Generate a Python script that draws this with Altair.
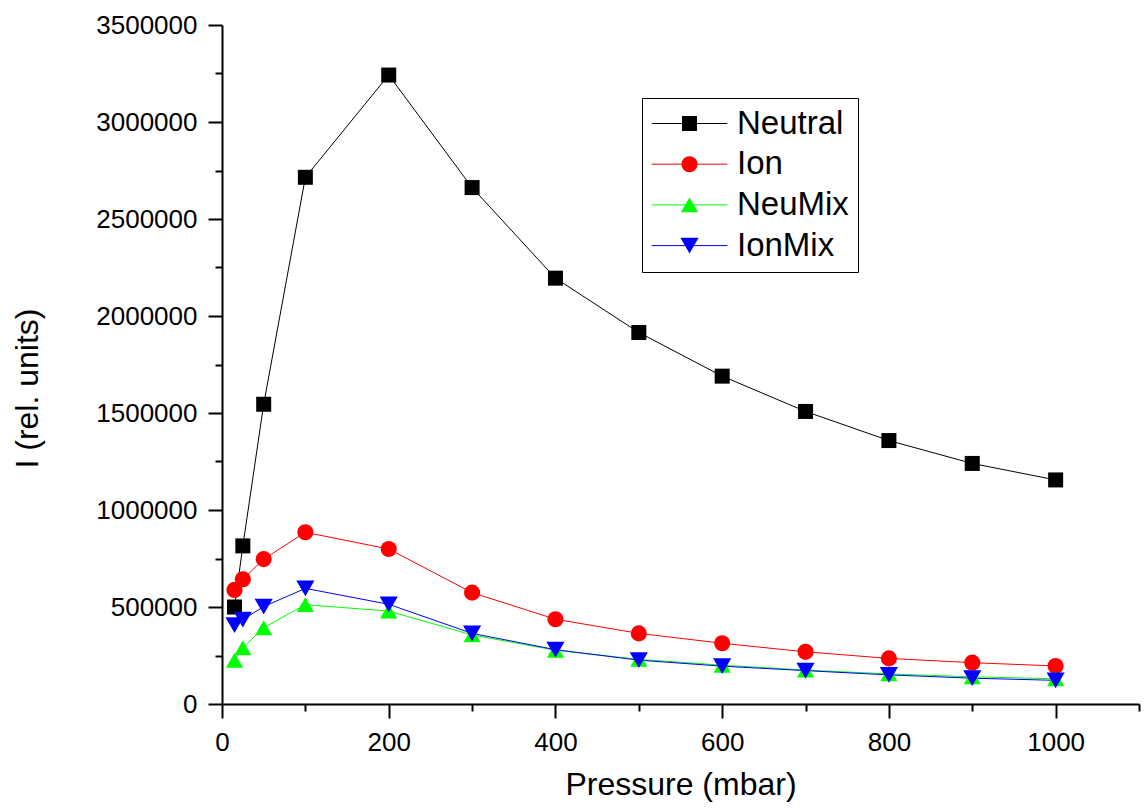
import altair as alt
import pandas as pd

# ---- data ----
pressure = [15, 25, 50, 100, 200, 300, 400, 500, 600, 700, 800, 900, 1000]
neutral = [500000, 815000, 1545000, 2715000, 3242000, 2662000, 2195000, 1915000, 1690000, 1508000, 1358000, 1240000, 1155000]
ion = [588000, 643000, 747000, 885000, 799000, 574000, 437000, 364000, 313000, 269000, 235000, 213000, 196000]
neumix = [225000, 290000, 393000, 512000, 479000, 356000, 277000, 230000, 200000, 175000, 155000, 140000, 130000]
ionmix = [407000, 435000, 502000, 596000, 514000, 364000, 280000, 226000, 195000, 172000, 150000, 133000, 122000]

series_names = ["Neutral", "Ion", "NeuMix", "IonMix"]
series_colors = ["#000000", "#ff0000", "#00ff00", "#0000ff"]
series_shapes = ["square", "circle", "triangle-up", "triangle-down"]
series_sizes = [225, 330, 460, 460]

x_ticks = list(range(0, 1101, 100))
y_ticks = list(range(0, 3500001, 250000))

rows = []
for name, vals in zip(series_names, [neutral, ion, neumix, ionmix]):
    for p, v in zip(pressure, vals):
        rows.append({"pressure": p, "value": v, "series": name})
df = pd.DataFrame(rows)

FONT = "Liberation Sans"

x_axis = alt.Axis(
    values=x_ticks,
    labelExpr="datum.value % 200 === 0 ? datum.label : ''",
    tickSize={"condition": {"test": "datum.value % 200 === 0", "value": 14}, "value": 7},
    format="d",
    grid=False,
    domainColor="black", domainWidth=2,
    tickColor="black", tickWidth=2,
    labelColor="black", labelFont=FONT, labelFontSize=26,
    labelPadding=11, labelOverlap=False, labelFlush=False,
    title="Pressure (mbar)", titleFont=FONT, titleFontSize=32,
    titleFontWeight="normal", titleColor="black", titlePadding=14,
)

y_axis = alt.Axis(
    values=y_ticks,
    labelExpr="datum.value % 500000 === 0 ? datum.label : ''",
    tickSize={"condition": {"test": "datum.value % 500000 === 0", "value": 14}, "value": 7},
    format="d",
    grid=False,
    domainColor="black", domainWidth=2,
    tickColor="black", tickWidth=2,
    labelColor="black", labelFont=FONT, labelFontSize=26,
    labelPadding=11, labelOverlap=False, labelFlush=False,
    title="I (rel. units)", titleFont=FONT, titleFontSize=32,
    titleFontWeight="normal", titleColor="black",
    titleX=-178, titleY=363,
)

x_enc = alt.X("pressure:Q", scale=alt.Scale(domain=[0, 1100], nice=False), axis=x_axis)
y_enc = alt.Y("value:Q", scale=alt.Scale(domain=[0, 3500000], nice=False), axis=y_axis)

legend_common = dict(
    orient="none", legendX=420, legendY=73, padding=9, rowPadding=6.7,
    symbolOffset=22, labelOffset=31,
    labelFont=FONT, labelFontSize=33,
)

line_legend = alt.Legend(
    title=None,
    symbolType="M-4.2,0H4.2", symbolSize=324, symbolStrokeWidth=1,
    labelOpacity=0,
    **legend_common,
)

point_legend = alt.Legend(
    title=None,
    symbolStrokeWidth=0,
    labelColor="black", strokeColor="black",
    **legend_common,
)

lines = alt.Chart(df).mark_line(strokeWidth=1).encode(
    x=x_enc,
    y=y_enc,
    color=alt.Color("series:N", scale=alt.Scale(domain=series_names, range=series_colors), legend=line_legend),
)

points = alt.Chart(df).mark_point(filled=True, opacity=1).encode(
    x=x_enc,
    y=y_enc,
    color=alt.Color("series:N", scale=alt.Scale(domain=series_names, range=series_colors), legend=point_legend),
    shape=alt.Shape("series:N", scale=alt.Scale(domain=series_names, range=series_shapes), legend=point_legend),
    size=alt.Size("series:N", scale=alt.Scale(domain=series_names, range=series_sizes), legend=None),
)

chart = alt.layer(lines, points).resolve_scale(
    color="independent", shape="independent", size="independent"
).properties(
    width=917,
    height=679,
    autosize=alt.AutoSizeParams(type="none"),
    padding={"left": 222, "top": 25, "right": 5, "bottom": 106},
    background="white",
).configure_view(strokeOpacity=0)

chart.save("out.html", embed_options={"renderer": "svg", "actions": False})
